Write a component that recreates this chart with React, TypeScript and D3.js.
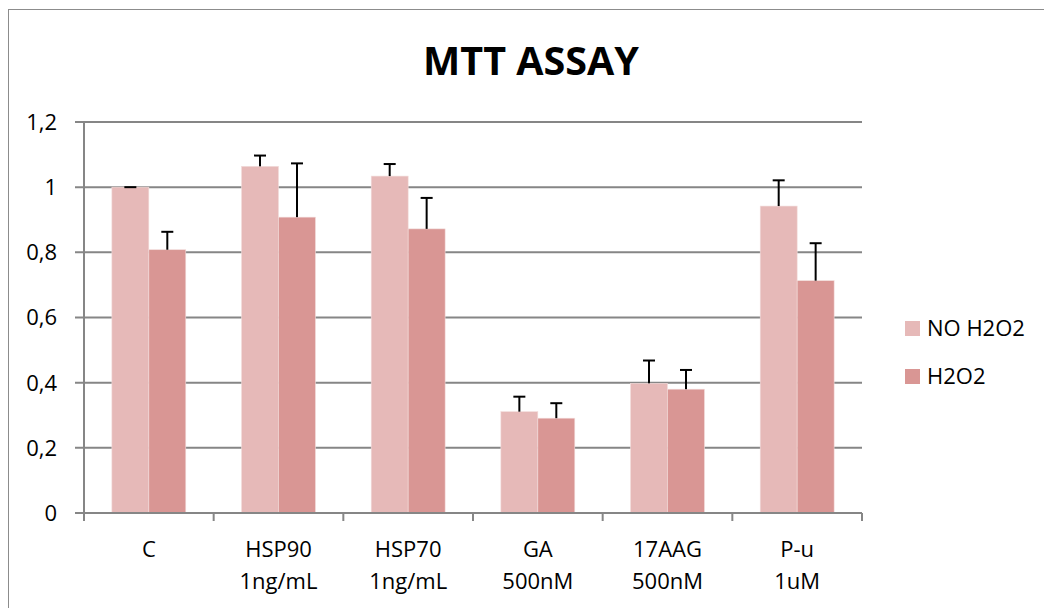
import React from "react";
import * as d3 from "d3";

const categories = ["C", "HSP90|1ng/mL", "HSP70|1ng/mL", "GA|500nM", "17AAG|500nM", "P-u|1uM"];
const seriesNames = ["NO H2O2", "H2O2"];
const noH2O2 = [1.0, 1.064, 1.034, 0.311, 0.398, 0.942];
const noH2O2Err = [0.0, 0.033, 0.037, 0.046, 0.07, 0.079];
const h2o2 = [0.808, 0.908, 0.872, 0.291, 0.38, 0.713];
const h2o2Err = [0.055, 0.165, 0.095, 0.046, 0.059, 0.115];
const yTicks = [0, 0.2, 0.4, 0.6, 0.8, 1.0, 1.2];
const colors = ["#E6B9B8", "#D99694"];

const FONT = "'Open Sans', 'Noto Sans', sans-serif";

export default function App() {
  const W = 1044, H = 608;
  const left = 84, right = 862, top = 122, bottom = 513;
  const x0 = d3.scaleBand<string>().domain(categories).range([left, right]).paddingInner(0.43).paddingOuter(0.215);
  const x1 = d3.scaleBand<string>().domain(seriesNames).range([0, x0.bandwidth()]);
  const y = d3.scaleLinear().domain([0, 1.2]).range([bottom, top]);
  const step = (right - left) / categories.length;
  const series = [
    { name: seriesNames[0], values: noH2O2, errs: noH2O2Err, color: colors[0] },
    { name: seriesNames[1], values: h2o2, errs: h2o2Err, color: colors[1] },
  ];
  const fmt = (v: number) => (v === 0 ? "0" : Math.abs(v - 1) < 1e-9 ? "1" : d3.format(".1f")(v).replace(".", ","));

  return (
    <svg width={W} height={H} style={{ position: "absolute", left: 0, top: 0, background: "#fff" }}>
      <rect x={8.5} y={9.5} width={W + 20} height={H + 20} fill="#fff" stroke="#8c8c8c" strokeWidth={1} />
      <text x={531} y={75} textAnchor="middle" fontFamily={FONT} fontWeight="bold" fontSize={39.5} fill="#000">MTT ASSAY</text>
      {yTicks.map((t) => (
        <g key={t}>
          <line x1={75} x2={t === 0 ? left : right} y1={y(t)} y2={y(t)} stroke="#868686" strokeWidth={2} />
          <text x={57} y={y(t)} dy="0.36em" textAnchor="end" fontFamily={FONT} fontSize={22} fill="#000">{fmt(t)}</text>
        </g>
      ))}
      {series.map((s, si) =>
        categories.map((c, ci) => {
          const bx = (x0(c) as number) + (x1(s.name) as number);
          const bw = x1.bandwidth();
          return (
            <rect key={`${si}-${ci}`} x={bx} y={y(s.values[ci])} width={bw} height={bottom - y(s.values[ci])} fill={s.color} stroke="#f2dcdb" strokeWidth={0.6} />
          );
        })
      )}
      <line x1={left} x2={right} y1={bottom} y2={bottom} stroke="#868686" strokeWidth={2} />
      <line x1={left} x2={left} y1={top} y2={bottom + 1} stroke="#868686" strokeWidth={2} />
      {d3.range(categories.length + 1).map((i) => (
        <line key={i} x1={left + i * step} x2={left + i * step} y1={bottom} y2={bottom + 8} stroke="#868686" strokeWidth={2} />
      ))}
      {series.map((s, si) =>
        categories.map((c, ci) => {
          const cx = (x0(c) as number) + (x1(s.name) as number) + x1.bandwidth() / 2;
          const yt = y(s.values[ci]);
          const ye = y(s.values[ci] + s.errs[ci]);
          return (
            <g key={`e${si}-${ci}`} stroke="#000" strokeWidth={2}>
              <line x1={cx} x2={cx} y1={yt} y2={ye} />
              <line x1={cx - 6} x2={cx + 6} y1={ye} y2={ye} />
            </g>
          );
        })
      )}
      {categories.map((c) => {
        const lines = c.split("|");
        const cx = (x0(c) as number) + x0.bandwidth() / 2;
        return (
          <text key={c} textAnchor="middle" fontFamily={FONT} fontSize={22} fill="#000">
            {lines.map((l, i) => (
              <tspan key={i} x={cx} y={557 + i * 32}>{l}</tspan>
            ))}
          </text>
        );
      })}
      {series.map((s, i) => (
        <g key={s.name}>
          <rect x={905} y={321 + i * 48} width={15} height={15} fill={s.color} />
          <text x={927} y={336 + i * 48} fontFamily={FONT} fontSize={22} fill="#000">{s.name}</text>
        </g>
      ))}
    </svg>
  );
}
